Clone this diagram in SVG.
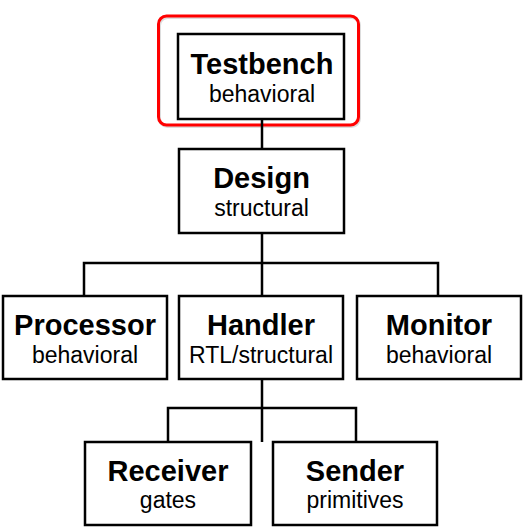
<svg xmlns="http://www.w3.org/2000/svg" width="528" height="532" viewBox="0 0 528 532">
<style>
.box{fill:#fff;stroke:#000;stroke-width:2.5}
.t{font-family:"Liberation Sans",Arial,sans-serif;font-weight:bold;font-size:29px;text-anchor:middle;fill:#000}
.s{font-family:"Liberation Sans",Arial,sans-serif;font-size:23px;text-anchor:middle;fill:#000}
.c{fill:none;stroke:#000;stroke-width:2.5}
</style>
<rect width="528" height="532" fill="#fff"/>
<g id="highlight">
<rect x="159.5" y="17.5" width="200" height="109" rx="8" fill="none" stroke="#ddd" stroke-width="3"/>
<rect x="158.5" y="16" width="200" height="109" rx="8" fill="none" stroke="#f00" stroke-width="3"/>
</g>
<g id="connectors">
<path class="c" d="M262 119V149"/>
<path class="c" d="M262 233V296M84 296V263H438V296"/>
<path class="c" d="M262 379V442M168 442V408H356V442"/>
</g>
<g id="testbench">
<rect class="box" x="178" y="34" width="166" height="85"/>
<text class="t" x="262" y="74">Testbench</text>
<text class="s" x="262" y="102">behavioral</text>
</g>
<g id="design">
<rect class="box" x="179" y="149" width="165" height="84"/>
<text class="t" x="261.5" y="188">Design</text>
<text class="s" x="261.5" y="216">structural</text>
</g>
<g id="processor">
<rect class="box" x="3" y="296" width="164" height="83"/>
<text class="t" x="85" y="335">Processor</text>
<text class="s" x="85" y="363">behavioral</text>
</g>
<g id="handler">
<rect class="box" x="179" y="296" width="164" height="83"/>
<text class="t" x="261" y="335">Handler</text>
<text class="s" x="261" y="363">RTL/structural</text>
</g>
<g id="monitor">
<rect class="box" x="357" y="296" width="164" height="83"/>
<text class="t" x="439" y="335">Monitor</text>
<text class="s" x="439" y="363">behavioral</text>
</g>
<g id="receiver">
<rect class="box" x="85" y="442" width="166" height="83"/>
<text class="t" x="168" y="481">Receiver</text>
<text class="s" x="168" y="508">gates</text>
</g>
<g id="sender">
<rect class="box" x="273" y="442" width="164" height="83"/>
<text class="t" x="355" y="481">Sender</text>
<text class="s" x="355" y="508">primitives</text>
</g>
</svg>
